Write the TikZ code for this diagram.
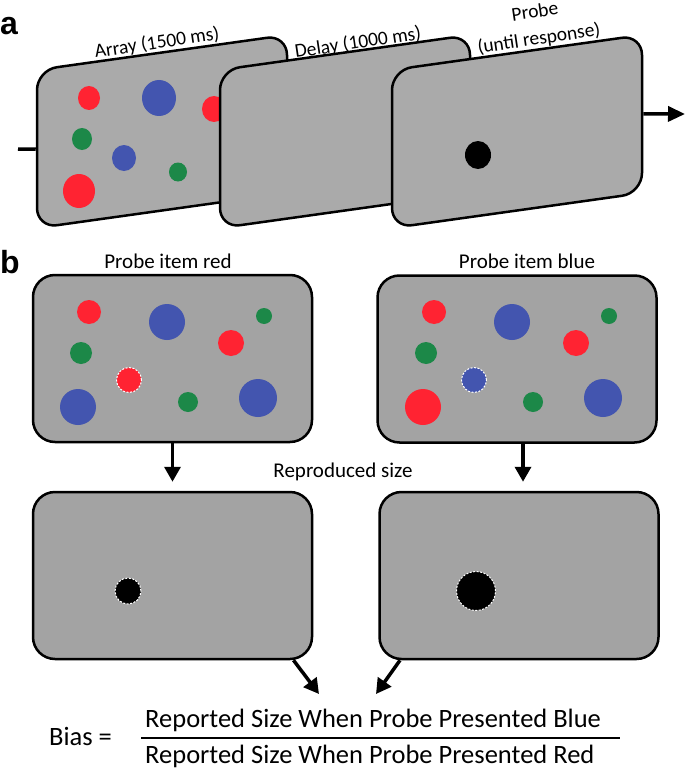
\documentclass[tikz,border=0pt]{standalone}
\usepackage{fontspec}
\setmainfont{Carlito}
\newfontfamily\panelfont{Liberation Sans}
\usepackage{tikz}
\usetikzlibrary{calc}
\usetikzlibrary{positioning}
\usetikzlibrary{arrows.meta}

\definecolor{agray}{RGB}{170,170,170}
\definecolor{bgray}{RGB}{163,163,163}
\definecolor{dotred}{RGB}{255,35,50}
\definecolor{dotblue}{RGB}{67,85,175}
\definecolor{dotgreen}{RGB}{28,136,72}

\begin{document}
\begin{tikzpicture}[x=1pt,y=-1pt]
\tikzstyle{ascreen}=[rectangle,draw,line width=2.5pt,fill=agray,rounded corners=20pt,inner sep=0pt,minimum width=250pt,minimum height=158pt,yslant=0.14]
\tikzstyle{bscreen}=[rectangle,draw,line width=2.5pt,fill=bgray,rounded corners=22pt,inner sep=0pt,minimum width=279pt,minimum height=167pt]
\tikzstyle{alabel}=[inner sep=0pt,align=center,rotate=8.5,font=\fontsize{19.5}{27}\selectfont]
\tikzstyle{blabel}=[inner sep=0pt,anchor=base,font=\fontsize{21}{25}\selectfont]
\tikzstyle{fractext}=[inner sep=0pt,anchor=base west,font=\fontsize{26.5}{30}\selectfont]
\tikzstyle{panel}=[inner sep=0pt,anchor=base west,font=\panelfont\bfseries\fontsize{32}{36}\selectfont]
\tikzstyle{flow}=[line width=3.5pt,-{Triangle[length=15pt,width=16pt]}]
\tikzstyle{ring}=[draw=white,line width=1pt,dash pattern=on 2pt off 1.5pt]
\useasboundingbox (0,0) rectangle (685,773);

% a: array, delay, probe
\node[panel] (alabel) at (0,35) {a};
\node[ascreen] (array) at (162,131.5) {};
\fill[dotred] (89,98) ellipse [x radius=11pt,y radius=12pt];
\fill[dotblue] (159,98) ellipse [x radius=17pt,y radius=18pt];
\fill[dotred] (214,109) ellipse [x radius=12pt,y radius=13pt];
\fill[dotgreen] (82,139) ellipse [x radius=10pt,y radius=11pt];
\fill[dotblue] (124,158) ellipse [x radius=12pt,y radius=13pt];
\fill[dotgreen] (178,172) ellipse [x radius=9pt,y radius=9.5pt];
\fill[dotred] (79,191) ellipse [x radius=16pt,y radius=17pt];
\node[ascreen] (delay) at (345,131.5) {};
\node[ascreen] (probe) at (517,131.5) {};
\fill (478,155) ellipse [x radius=13pt,y radius=14pt];
\node[alabel] (arraytxt) at (157,43) {Array (1500 ms)};
\node[alabel] (delaytxt) at (358,43) {Delay (1000 ms)};
\node[alabel] (probetxt) at (537,26) {Probe\\(until response)};
\coordinate (start) at (18,149);
\coordinate (finish) at (685,114);
\draw[line width=3.5pt] (start) -- (array.west);
\draw[flow,-{Triangle[length=17pt,width=15pt]}] (probe.east) -- (finish);

% b: probe colour and reproduced size
\node[panel] (blabel) at (0,273) {b};
\node[bscreen] (redarr) at (172.5,358.5) {};
\node[bscreen] (bluearr) at (517,359) {};
\node[blabel] at (168,268) {Probe item red};
\node[blabel] at (527,268) {Probe item blue};
\foreach \sx/\ca/\cb in {0/dotblue/dotred,345/dotred/dotblue}{
  \begin{scope}[xshift=\sx pt]
  \fill[dotred] (89,312) circle [radius=12pt];
  \fill[dotblue] (167,322) circle [radius=18pt];
  \fill[dotgreen] (264,316) circle [radius=8pt];
  \fill[dotred] (231,343) circle [radius=13pt];
  \fill[dotgreen] (81,353) circle [radius=11pt];
  \fill[\ca] (78,407) circle [radius=18pt];
  \fill[dotgreen] (188,402) circle [radius=10pt];
  \fill[dotblue] (258,398) circle [radius=19pt];
  \fill[\cb] (129,380) circle [radius=12.5pt];
  \draw[ring] (129,380) circle [radius=12.5pt];
  \end{scope}
}
\node[bscreen] (redrep) at (172.5,575.5) {};
\node[bscreen] (bluerep) at (519,575.5) {};
\fill (128,591) circle [radius=13pt];
\draw[ring] (128,591) circle [radius=13pt];
\fill (476,591) circle [radius=19.5pt];
\draw[ring] (476,591) circle [radius=19.5pt];
\node[blabel] (repro) at (343,477) {Reproduced size};
\draw[flow,shorten >=9pt] (redarr) -- (redrep);
\draw[flow,shorten >=9pt] ([xshift=6pt]bluearr.south) -- ([xshift=4pt]bluerep.north);

% bias
\coordinate (lefthit) at (319,694);
\coordinate (righthit) at (376,694);
\draw[flow] ([xshift=121pt]redrep.south) -- (lefthit);
\draw[flow] ([xshift=-119pt]bluerep.south) -- (righthit);
\node[fractext] (bias) at (49,745) {Bias =};
\node[fractext] (num) at (145,727) {Reported Size When Probe Presented Blue};
\node[fractext] (den) at (145,763) {Reported Size When Probe Presented Red};
\draw[line width=1.2pt] (141,738) -- (620,738);
\end{tikzpicture}
\end{document}
